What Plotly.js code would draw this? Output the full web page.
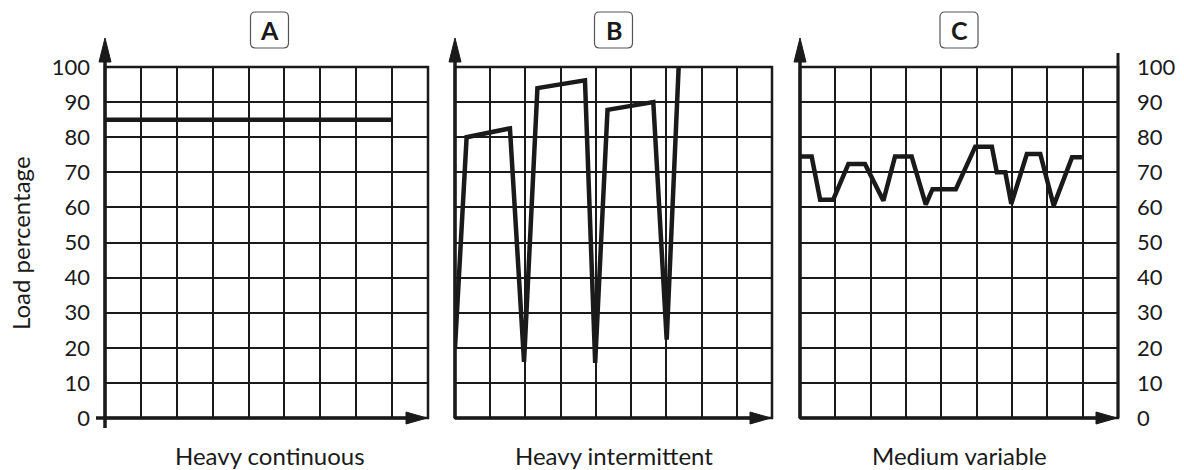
<!DOCTYPE html>
<html>
<head>
<meta charset="utf-8">
<script src="https://cdn.plot.ly/plotly-3.0.1.min.js"></script>
<style>html,body{margin:0;padding:0;background:#fff;}#chart{width:1184px;height:470px;}</style>
</head>
<body>
<div id="chart"></div>
<script>
// ---- data ----
const panelLetters = ["A", "B", "C"];
const panelLabels = ["Heavy continuous", "Heavy intermittent", "Medium variable"];
const yAxisTitle = "Load percentage";
const yTicks = [0, 10, 20, 30, 40, 50, 60, 70, 80, 90, 100];

const xA = [0, 8];
const yA = [85, 85];

const xB = [0, 0.33, 1.56, 1.96, 2.34, 3.69, 3.98, 4.33, 5.63, 6.01, 6.35];
const yB = [20, 80, 82.5, 16, 94, 96.2, 15.7, 87.8, 90, 22.3, 100];

const xC = [0, 0.33, 0.57, 0.94, 1.37, 1.84, 2.36, 2.69, 3.16, 3.56, 3.75, 4.41, 4.96, 5.43, 5.57, 5.81, 5.98, 6.42, 6.8, 7.18, 7.7, 7.98];
const yC = [74.5, 74.5, 62.2, 62.2, 72.4, 72.4, 61.9, 74.5, 74.5, 60.8, 65.2, 65.2, 77.3, 77.3, 70, 70, 61, 75.2, 75.2, 60.5, 74.3, 74.3];

// ---- layout helpers ----
const W = 1184, H = 470;
const fx = p => p / W;
const fy = p => (H - p) / H;
const panels = [{l: 105, r: 428}, {l: 455, r: 772}, {l: 800, r: 1118}];
const TOP = 67, BOT = 418;
const INK = "#1a1a1a";
const FONT = "Lato, 'Open Sans', sans-serif";

const series = [[xA, yA], [xB, yB], [xC, yC]];
const traces = series.map((s, i) => ({
  type: "scatter", mode: "lines",
  x: s[0], y: s[1],
  xaxis: i === 0 ? "x" : "x" + (i + 1),
  yaxis: i === 0 ? "y" : "y" + (i + 1),
  line: {color: INK, width: 4.5, shape: "linear"},
  hoverinfo: "skip", showlegend: false
}));

const layout = {
  width: W, height: H,
  margin: {l: 0, r: 0, t: 0, b: 0},
  paper_bgcolor: "#fff", plot_bgcolor: "#fff",
  showlegend: false,
  font: {family: FONT, color: INK, size: 22},
  shapes: [], annotations: []
};

panels.forEach((p, i) => {
  const xs = i === 0 ? "xaxis" : "xaxis" + (i + 1);
  const ys = i === 0 ? "yaxis" : "yaxis" + (i + 1);
  layout[xs] = {
    domain: [fx(p.l), fx(p.r)], range: [0, 9], tick0: 0, dtick: 1,
    showgrid: true, gridcolor: INK, gridwidth: 2,
    zeroline: false, showline: false, showticklabels: false, ticks: "",
    fixedrange: true,
    anchor: i === 0 ? "y" : "y" + (i + 1)
  };
  layout[ys] = {
    domain: [fy(BOT), fy(TOP)], range: [0, 100],
    tickvals: yTicks, ticktext: yTicks.map(String),
    showgrid: true, gridcolor: INK, gridwidth: 2,
    zeroline: false, showline: false, ticks: "",
    showticklabels: i !== 1,
    side: i === 2 ? "right" : "left",
    ticklabelstandoff: i === 2 ? 18 : 14,
    tickfont: {family: FONT, size: 22, color: INK},
    fixedrange: true,
    anchor: i === 0 ? "x" : "x" + (i + 1)
  };

  // border (top & right)
  layout.shapes.push({type: "rect", xref: "paper", yref: "paper",
    x0: fx(p.l), x1: fx(p.r), y0: fy(BOT), y1: fy(TOP),
    line: {color: INK, width: 2.5}});

  // y axis line with arrow
  const yBottom = i === 0 ? BOT + 10 : BOT;
  layout.shapes.push({type: "line", xref: "paper", yref: "paper",
    x0: fx(p.l), x1: fx(p.l), y0: fy(yBottom), y1: fy(50),
    line: {color: INK, width: 3.5}});
  layout.shapes.push({type: "path", xref: "paper", yref: "paper",
    path: `M ${fx(p.l)},${fy(38)} L ${fx(p.l - 6)},${fy(62)} L ${fx(p.l + 6)},${fy(62)} Z`,
    fillcolor: INK, line: {color: INK, width: 1}});

  // x axis line with arrow
  const xLeft = i === 0 ? p.l - 9 : p.l;
  layout.shapes.push({type: "line", xref: "paper", yref: "paper",
    x0: fx(xLeft), x1: fx(p.r - 10), y0: fy(BOT), y1: fy(BOT),
    line: {color: INK, width: 3.5}});
  layout.shapes.push({type: "path", xref: "paper", yref: "paper",
    path: `M ${fx(p.r - 1)},${fy(BOT)} L ${fx(p.r - 22)},${fy(BOT - 6)} L ${fx(p.r - 22)},${fy(BOT + 6)} Z`,
    fillcolor: INK, line: {color: INK, width: 1}});

  // title box with rounded corners
  const cx = (p.l + p.r) / 2 + (i === 0 ? 3 : 0);
  const bl = cx - 19, br = cx + 19, bt = 12, bb = 48, rr = 5;
  layout.shapes.push({type: "path", xref: "paper", yref: "paper",
    path: `M ${fx(bl + rr)},${fy(bt)} L ${fx(br - rr)},${fy(bt)} Q ${fx(br)},${fy(bt)} ${fx(br)},${fy(bt + rr)} ` +
          `L ${fx(br)},${fy(bb - rr)} Q ${fx(br)},${fy(bb)} ${fx(br - rr)},${fy(bb)} ` +
          `L ${fx(bl + rr)},${fy(bb)} Q ${fx(bl)},${fy(bb)} ${fx(bl)},${fy(bb - rr)} ` +
          `L ${fx(bl)},${fy(bt + rr)} Q ${fx(bl)},${fy(bt)} ${fx(bl + rr)},${fy(bt)} Z`,
    fillcolor: "#fff", line: {color: "#555", width: 1.2}});
  layout.annotations.push({xref: "paper", yref: "paper", x: fx(cx), y: fy(30),
    text: "<b>" + panelLetters[i] + "</b>", showarrow: false,
    xanchor: "center", yanchor: "middle",
    font: {family: FONT, size: 25, color: INK}});

  // bottom label
  layout.annotations.push({xref: "paper", yref: "paper", x: fx(cx), y: fy(455),
    text: panelLabels[i], showarrow: false, xanchor: "center", yanchor: "middle",
    font: {family: FONT, size: 24, color: INK}});
});

// right axis line of panel C extending above
layout.shapes.push({type: "line", xref: "paper", yref: "paper",
  x0: fx(panels[2].r), x1: fx(panels[2].r), y0: fy(BOT), y1: fy(53),
  line: {color: INK, width: 3}});

// y axis title
layout.annotations.push({xref: "paper", yref: "paper", x: fx(20), y: fy(243),
  text: yAxisTitle, showarrow: false, textangle: -90,
  xanchor: "center", yanchor: "middle",
  font: {family: FONT, size: 24, color: INK}});

Plotly.newPlot("chart", traces, layout, {staticPlot: true, displayModeBar: false});
</script>
</body>
</html>
